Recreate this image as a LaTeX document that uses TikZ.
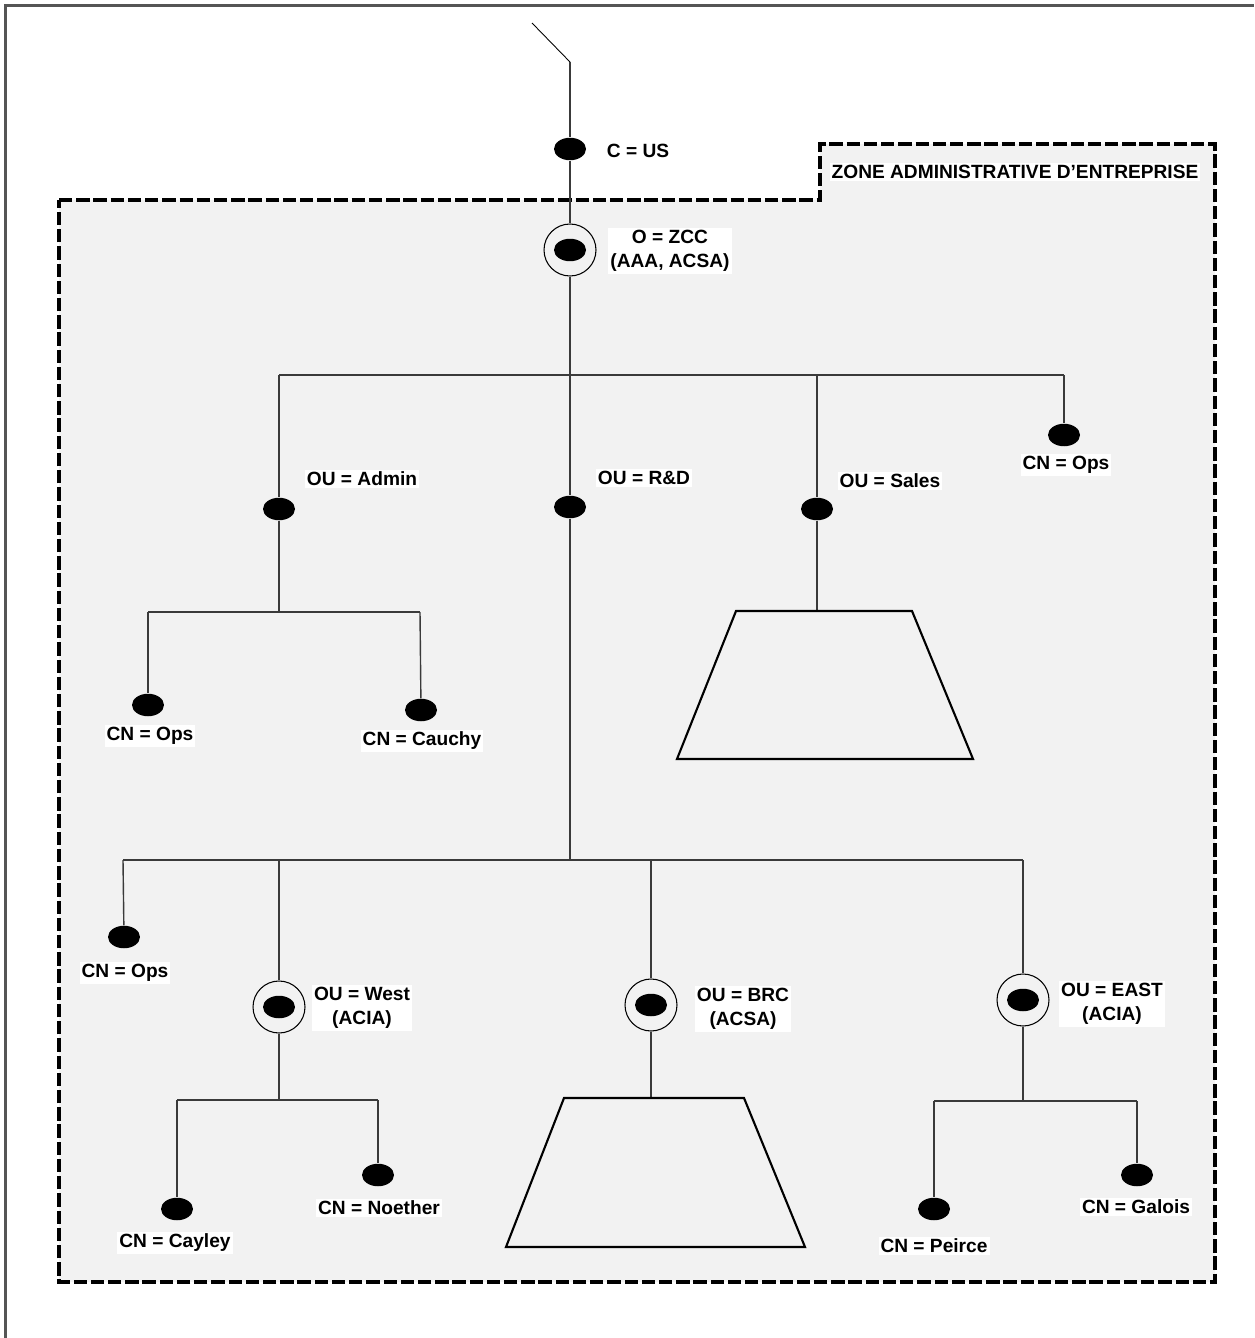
\documentclass[tikz,border=0pt]{standalone}
\usepackage{fontspec}
\setmainfont{Liberation Sans}
\usetikzlibrary{shapes.geometric}
\definecolor{zonegrey}{HTML}{F2F2F2}
\definecolor{linegrey}{HTML}{3A3A3A}
\definecolor{framegrey}{HTML}{555555}
\tikzset{
  dot/.style={ellipse,fill=black,inner sep=0pt,minimum width=0.64cm,minimum height=0.45cm},
  ring/.style={circle,draw=black,line width=0.6pt,inner sep=0pt,minimum size=1.04cm},
  lbl/.style={fill=white,inner sep=0.04cm,align=center,font=\bfseries\fontsize{10.9}{13.6}\selectfont},
  conn/.style={draw=linegrey,line width=0.8pt},
  zone/.style={draw=black,fill=zonegrey,line width=2pt,dash pattern=on 7.6pt off 2.2pt},
  trap/.style={draw=black,line width=1.2pt},
}
\begin{document}
\begin{tikzpicture}[x=0.02cm,y=-0.02cm]
\useasboundingbox (0,0) rectangle (1254,1338);
% outer frame (top and left)
\draw[framegrey,line width=1.2pt] (5.5,1338) -- (5.5,5.5) -- (1254,5.5);
% zone
\draw[zone] (59,200) -- (820,200) -- (820,144) -- (1215,144) -- (1215,1282) -- (59,1282) -- cycle;
\node[lbl] (zonelbl) at (1015,172) {ZONE ADMINISTRATIVE D’ENTREPRISE};

% nodes
\node[dot] (cus) at (570,149) {};
\node[lbl] (cuslbl) at (638,151) {C = US};
\node[ring] (zccring) at (570,250) {};
\node[dot] (zcc) at (570,250) {};
\node[lbl] (zcclbl) at (670,251) {O = ZCC\\(AAA, ACSA)};

\node[dot] (admin) at (279,509) {};
\node[lbl] (adminlbl) at (362,479) {OU = Admin};
\node[dot] (rd) at (570,507) {};
\node[lbl] (rdlbl) at (644,478) {OU = R\&D};
\node[dot] (sales) at (817,509) {};
\node[lbl] (saleslbl) at (890,481) {OU = Sales};
\node[dot] (ops1) at (1064,435) {};
\node[lbl] (ops1lbl) at (1066,465) {CN = Ops};

\node[dot] (ops2) at (148,705) {};
\node[lbl] (ops2lbl) at (150,736) {CN = Ops};
\node[dot] (cauchy) at (421,710) {};
\node[lbl] (cauchylbl) at (422,741) {CN = Cauchy};

\node[dot] (ops3) at (124,937) {};
\node[lbl] (ops3lbl) at (125,973) {CN = Ops};
\node[ring] (westring) at (279,1007) {};
\node[dot] (west) at (279,1007) {};
\node[lbl] (westlbl) at (362,1008) {OU = West\\(ACIA)};
\node[ring] (brcring) at (651,1005) {};
\node[dot] (brc) at (651,1005) {};
\node[lbl] (brclbl) at (743,1009) {OU = BRC\\(ACSA)};
\node[ring] (eastring) at (1023,1000) {};
\node[dot] (east) at (1023,1000) {};
\node[lbl] (eastlbl) at (1112,1004) {OU = EAST\\(ACIA)};

\node[dot] (cayley) at (177,1209) {};
\node[lbl] (cayleylbl) at (175,1243) {CN = Cayley};
\node[dot] (noether) at (378,1175) {};
\node[lbl] (noetherlbl) at (379,1208) {CN = Noether};
\node[dot] (peirce) at (934,1209) {};
\node[lbl] (peircelbl) at (934,1246) {CN = Peirce};
\node[dot] (galois) at (1137,1175) {};
\node[lbl] (galoislbl) at (1136,1207) {CN = Galois};

% junction coordinates
\coordinate (t0) at (532,23);
\coordinate (t1) at (570,62);
\coordinate (h1l) at (279,375);
\coordinate (h1s) at (817,375);
\coordinate (h1r) at (1064,375);
\coordinate (ja) at (279,612);
\coordinate (ja1) at (148,612);
\coordinate (ja2) at (420,612);
\coordinate (trap1top) at (817,611);
\coordinate (j2) at (570,860);
\coordinate (h2l) at (123,860);
\coordinate (h2w) at (279,860);
\coordinate (h2b) at (651,860);
\coordinate (h2r) at (1023,860);
\coordinate (jw) at (279,1100);
\coordinate (jw1) at (177,1100);
\coordinate (jw2) at (378,1100);
\coordinate (trap2top) at (651,1098);
\coordinate (je) at (1023,1101);
\coordinate (je1) at (934,1101);
\coordinate (je2) at (1137,1101);

% connectors
\draw[draw=black,line width=0.5pt] (t0) -- (t1);
\draw[conn] (t1) -- (cus);
\draw[conn] (cus) -- (zccring);
\draw[conn] (zccring) -- (rd);
\draw[conn] (rd) -- (j2);
\draw[conn] (h1l) -- (h1r);
\draw[conn] (h1l) -- (admin);
\draw[conn] (h1s) -- (sales);
\draw[conn] (h1r) -- (ops1);
\draw[conn] (admin) -- (ja);
\draw[conn] (ja1) -- (ja2);
\draw[conn] (ja1) -- (ops2);
\draw[conn] (ja2) -- (cauchy);
\draw[conn] (sales) -- (trap1top);
\draw[conn] (h2l) -- (h2r);
\draw[conn] (h2l) -- (ops3);
\draw[conn] (h2w) -- (westring);
\draw[conn] (h2b) -- (brcring);
\draw[conn] (h2r) -- (eastring);
\draw[conn] (westring) -- (jw);
\draw[conn] (jw1) -- (jw2);
\draw[conn] (jw1) -- (cayley);
\draw[conn] (jw2) -- (noether);
\draw[conn] (brcring) -- (trap2top);
\draw[conn] (eastring) -- (je);
\draw[conn] (je1) -- (je2);
\draw[conn] (je1) -- (peirce);
\draw[conn] (je2) -- (galois);

% trapezoids
\draw[trap] (736,611) -- (912,611) -- (973,759) -- (677,759) -- cycle;
\draw[trap] (564,1098) -- (744,1098) -- (805,1247) -- (506,1247) -- cycle;
\end{tikzpicture}
\end{document}
